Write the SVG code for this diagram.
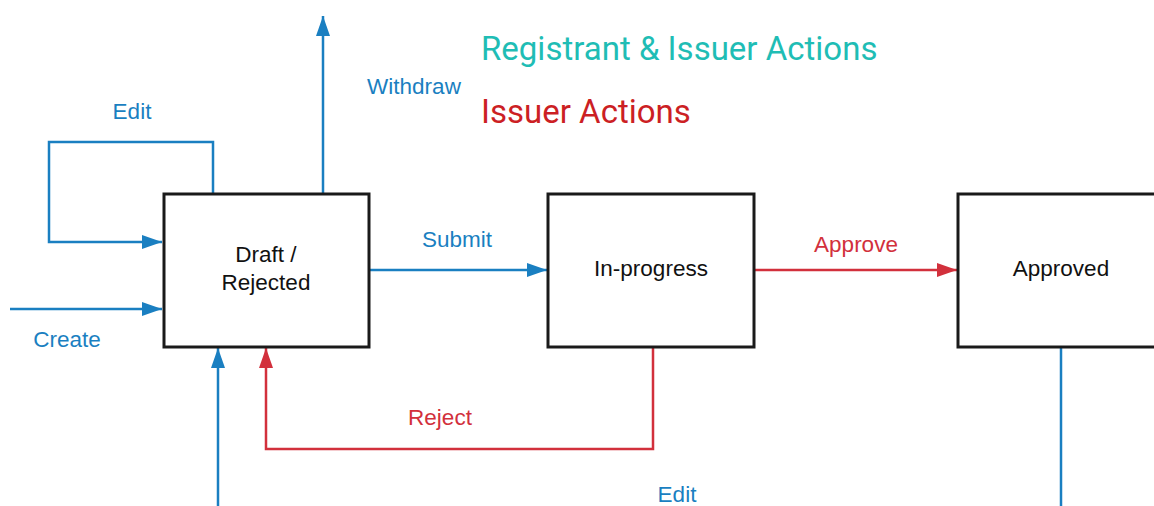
<svg xmlns="http://www.w3.org/2000/svg" width="1154" height="506" viewBox="0 0 1154 506">
<defs>
<style>
.node rect{fill:#fff;stroke:#1a1a1a;stroke-width:3}
.node text{font-family:"Liberation Sans",Arial,sans-serif;font-size:22.5px;fill:#111;text-anchor:middle}
.b{fill:none;stroke:#1a7fc1;stroke-width:2.5}
.r{fill:none;stroke:#d2303c;stroke-width:2.5}
.lb{font-family:"Liberation Sans",Arial,sans-serif;font-size:22.5px;fill:#1a7fc1;text-anchor:middle}
.lr{font-family:"Liberation Sans",Arial,sans-serif;font-size:22.5px;fill:#d2303c;text-anchor:middle}
</style>
<marker id="ab" viewBox="0 0 20 14" refX="20" refY="7" markerWidth="20" markerHeight="14" markerUnits="userSpaceOnUse" orient="auto"><path d="M0,0 L20,7 L0,14 z" fill="#1a7fc1"/></marker>
<marker id="ar" viewBox="0 0 20 14" refX="20" refY="7" markerWidth="20" markerHeight="14" markerUnits="userSpaceOnUse" orient="auto"><path d="M0,0 L20,7 L0,14 z" fill="#d2303c"/></marker>
</defs>
<rect width="1154" height="506" fill="#fff"/>
<g id="connectors">
<path class="b" d="M213,194 V142 H49 V242 H162" marker-end="url(#ab)"/>
<path class="b" d="M10,309 H162" marker-end="url(#ab)"/>
<path class="b" d="M323,194 V16" marker-end="url(#ab)"/>
<path class="b" d="M369,270 H547" marker-end="url(#ab)"/>
<path class="r" d="M754,270 H957" marker-end="url(#ar)"/>
<path class="r" d="M653,347 V449 H266 V348" marker-end="url(#ar)"/>
<path class="b" d="M218,506 V348" marker-end="url(#ab)"/>
<path class="b" d="M1061,347 V506"/>
<text class="lb" x="132" y="119">Edit</text>
<text class="lb" x="414" y="94">Withdraw</text>
<text class="lb" x="457" y="247">Submit</text>
<text class="lb" x="67" y="347">Create</text>
<text class="lr" x="856" y="252">Approve</text>
<text class="lr" x="440" y="425">Reject</text>
<text class="lb" x="677" y="502">Edit</text>
</g>
<g id="legend" font-family="Roboto,sans-serif" font-size="33">
<text x="481" y="60" fill="#1fbdb5">Registrant &amp; Issuer Actions</text>
<text x="481" y="123" fill="#cc1f24">Issuer Actions</text>
</g>
<g id="draft" class="node"><rect x="164" y="194" width="205" height="153"/><text x="266" y="262">Draft /</text><text x="266" y="290">Rejected</text></g>
<g id="inprogress" class="node"><rect x="548" y="194" width="206" height="153"/><text x="651" y="276">In-progress</text></g>
<g id="approved" class="node"><rect x="958" y="194" width="210" height="153"/><text x="1061" y="276">Approved</text></g>
</svg>
